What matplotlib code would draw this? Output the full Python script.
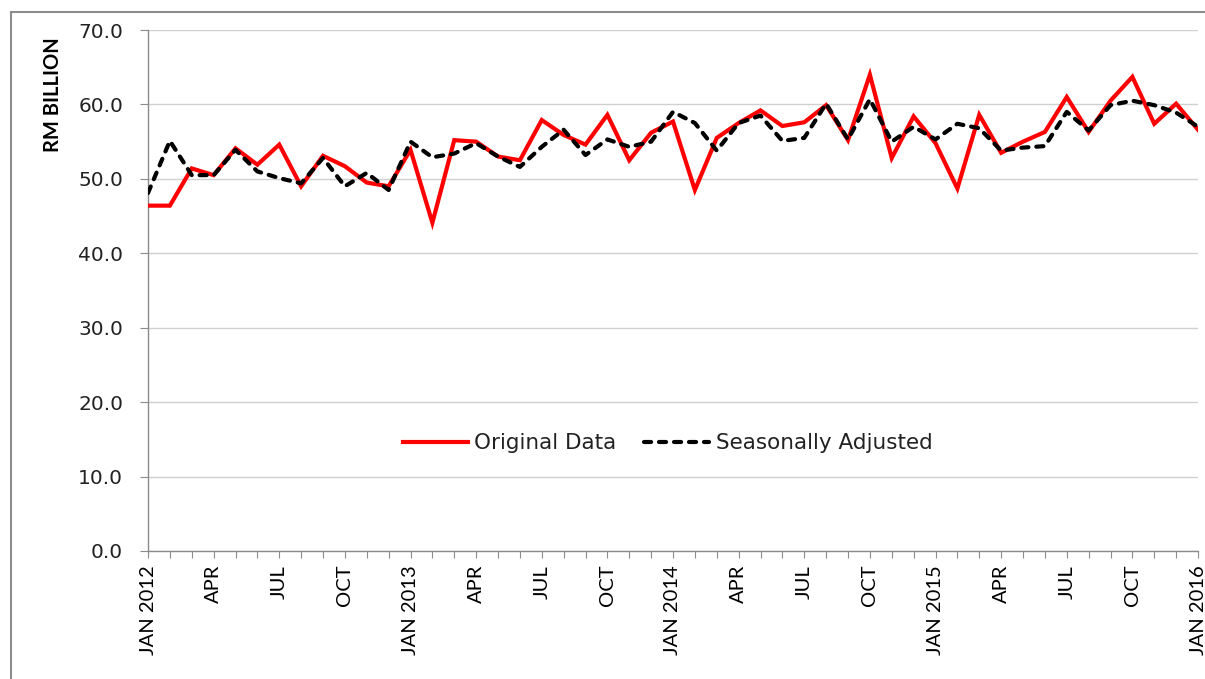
import matplotlib
matplotlib.use("Agg")
import matplotlib.pyplot as plt
from matplotlib.patches import Rectangle

months = ["JAN", "FEB", "MAR", "APR", "MAY", "JUN", "JUL", "AUG", "SEP", "OCT", "NOV", "DEC"]
tick_labels = []
for i in range(49):
    y, m = divmod(i, 12)
    if i % 3 != 0:
        tick_labels.append("")
    elif m == 0:
        tick_labels.append(f"JAN {2012 + y}")
    else:
        tick_labels.append(months[m])

original = [46.4, 46.4, 51.4, 50.5, 54.1, 51.9, 54.6, 49.0, 53.1, 51.7, 49.5, 49.0,
            53.9, 44.1, 55.2, 55.0, 53.0, 52.5, 57.9, 55.9, 54.6, 58.6, 52.5, 56.2,
            57.7, 48.5, 55.5, 57.5, 59.2, 57.1, 57.6, 59.9, 55.2, 64.0, 52.8, 58.4,
            54.8, 48.7, 58.6, 53.5, 55.0, 56.3, 61.0, 56.3, 60.5, 63.7, 57.4, 60.1,
            56.6]
seasonal = [48.1, 55.1, 50.5, 50.5, 53.9, 51.0, 50.1, 49.4, 52.8, 49.0, 50.8, 48.5,
            55.0, 52.9, 53.4, 54.8, 53.0, 51.6, 54.3, 56.6, 53.2, 55.3, 54.3, 55.0,
            59.0, 57.5, 53.8, 57.5, 58.5, 55.1, 55.5, 60.1, 55.3, 60.7, 55.0, 57.0,
            55.3, 57.4, 56.8, 53.8, 54.2, 54.4, 59.0, 56.5, 59.9, 60.5, 59.9, 58.9,
            57.0]
y_ticks = [0, 10, 20, 30, 40, 50, 60, 70]

W, H = 1205, 679
fig = plt.figure(figsize=(W / 100, H / 100), dpi=100)
ax = fig.add_axes([148 / W, 1 - 551 / H, 1050 / W, 521 / H])

x = list(range(len(original)))
ax.plot(x, original, color="#ff0000", lw=3.0, label="Original Data", zorder=3,
        solid_joinstyle="miter")
ax.plot(x, seasonal, color="black", lw=3.0, label="Seasonally Adjusted", zorder=4,
        dashes=(1.7, 1.9), dash_capstyle="round")

ax.set_xlim(0, len(original) - 1)
ax.set_ylim(0, 70)
ax.set_yticks(y_ticks)
ax.set_yticklabels([f"{v:.1f}" for v in y_ticks], fontsize=14.5, color="#222222",
                   family="DejaVu Sans")
ax.set_xticks(x)
ax.set_xticklabels(tick_labels, rotation=90, fontsize=14.5, family="Lato", color="black")
ax.grid(axis="y", color="#d0d0d0", lw=1.0)
ax.set_axisbelow(True)
for s in ["top", "right"]:
    ax.spines[s].set_visible(False)
for s in ["left", "bottom"]:
    ax.spines[s].set_color("#8c8c8c")
    ax.spines[s].set_linewidth(1.0)
ax.tick_params(axis="y", direction="out", length=6, color="#8c8c8c", pad=12)
ax.tick_params(axis="x", direction="out", length=5, color="#8c8c8c", pad=5)

fig.text(53 / W, 1 - 95 / H, "RM BILLION", rotation=90, ha="center", va="center",
         fontsize=14.5, fontweight="bold", family="Lato")

leg = ax.legend(loc="center", bbox_to_anchor=(0.495, 0.207), ncol=2, frameon=False,
                fontsize=15.5, handlelength=3.0, handletextpad=0.3, columnspacing=1.3)
for t in leg.get_texts():
    t.set_color("#222222")

fig.patches.append(Rectangle((11 / W, -0.2), 2.0, 1.2 - 12.5 / H, transform=fig.transFigure,
                             fill=False, edgecolor="#8c8c8c", lw=1.5))

fig.savefig("out.png", dpi=100)
